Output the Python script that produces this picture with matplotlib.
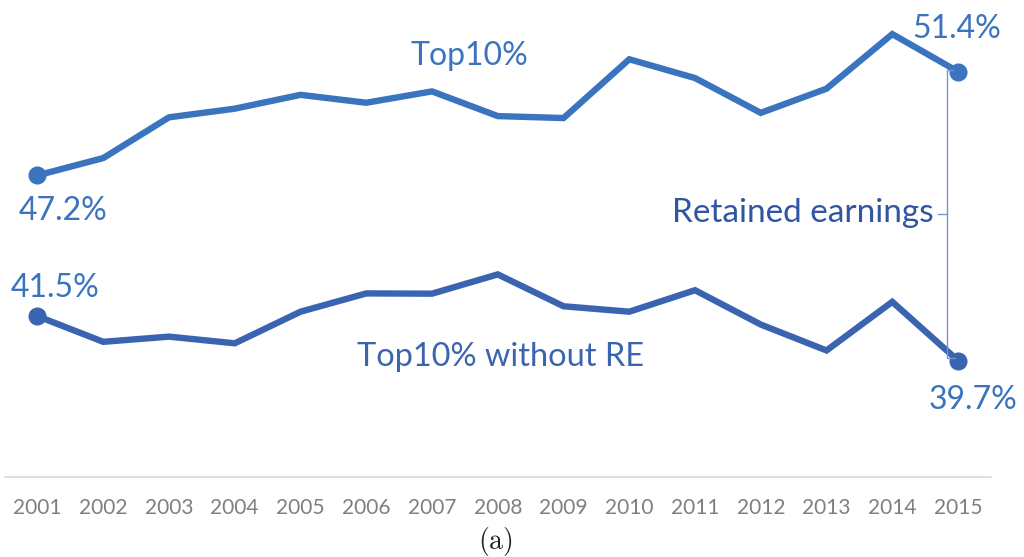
import matplotlib
matplotlib.use("Agg")
import matplotlib.pyplot as plt

# Share of income held by the top 10%, with and without retained earnings
years = list(range(2001, 2016))
top10 = [47.2, 47.9, 49.55, 49.9, 50.46, 50.14, 50.6, 49.6, 49.52, 51.9,
         51.14, 49.73, 50.71, 52.92, 51.4]
top10_without_re = [41.5, 40.46, 40.67, 40.4, 41.68, 42.42, 42.41, 43.19, 41.9,
                    41.68, 42.55, 41.16, 40.11, 42.08, 39.7]
tick_labels = [str(y) for y in years]

series_top_name = "Top10%"
series_bottom_name = "Top10% without RE"
bracket_name = "Retained earnings"

c_top = "#3A73BE"
c_bottom = "#3A64B0"
c_bracket_text = "#2F55A3"
c_bracket = "#7A93C8"
c_tick = "#7F7F7F"

plt.rcParams["font.family"] = ["Lato", "DejaVu Sans"]
plt.rcParams["mathtext.fontset"] = "cm"

fig = plt.figure(figsize=(10.24, 5.57), dpi=100)
ax = fig.add_axes([0.0045, 0.1442, 0.9632, 0.8558])
ax.set_xlim(2000.5, 2015.5)
ax.set_ylim(35.0, 54.3)

lw = 4.6
ax.plot(years, top10, color=c_top, lw=lw, solid_joinstyle="miter",
        marker="o", markevery=[0, len(years) - 1], markersize=12)
ax.plot(years, top10_without_re, color=c_bottom, lw=lw, solid_joinstyle="miter",
        marker="o", markevery=[0, len(years) - 1], markersize=12)

for s in ["top", "right", "left"]:
    ax.spines[s].set_visible(False)
ax.spines["bottom"].set_color("#D9D9D9")
ax.spines["bottom"].set_linewidth(1.2)
ax.set_yticks([])
ax.set_xticks(years)
ax.set_xticklabels(tick_labels, color=c_tick, fontsize=15)
ax.tick_params(axis="x", length=0, pad=15)

fs = 23

def value_label(x, y, text, dx, dy, color):
    ax.annotate(text, (x, y), xytext=(dx, dy), textcoords="offset pixels",
                ha="center", va="baseline", fontsize=fs, color=color)

value_label(years[0], top10[0], f"{top10[0]:.1f}%", 25.5, -44.7, c_top)
value_label(years[-1], top10[-1], f"{top10[-1]:.1f}%", -1.5, 34, c_top)
value_label(years[0], top10_without_re[0], f"{top10_without_re[0]:.1f}%", 18, 18.7, c_top)
value_label(years[-1], top10_without_re[-1], f"{top10_without_re[-1]:.1f}%", 15, -48, c_top)

ax.text(2007.57, 51.65, series_top_name, ha="center", va="baseline",
        fontsize=fs, color=c_top)
ax.text(2008.05, 39.48, series_bottom_name, ha="center", va="baseline",
        fontsize=23.4, color=c_bottom)

# Bracket spanning the gap between the two 2015 values
xb = years[-1] - 0.17
y_hi = top10[-1] + 0.05
y_lo = top10_without_re[-1] + 0.1
y_mid = (y_hi + y_lo) / 2
ax.plot([xb + 0.1, xb, xb, xb + 0.12], [y_hi, y_hi, y_lo, y_lo],
        color=c_bracket, lw=1.0, solid_joinstyle="miter")
ax.plot([xb, xb - 0.14], [y_mid, y_mid], color=c_bracket, lw=1.0)
ax.text(2014.63, 45.31, bracket_name, ha="right", va="baseline",
        fontsize=24, color=c_bracket_text)

fig.text(495 / 1024, 1 - 542 / 557, r"$\mathrm{(a)}$", ha="center", va="center",
         fontsize=20, color="#222222")

fig.savefig("out.png", dpi=100)
